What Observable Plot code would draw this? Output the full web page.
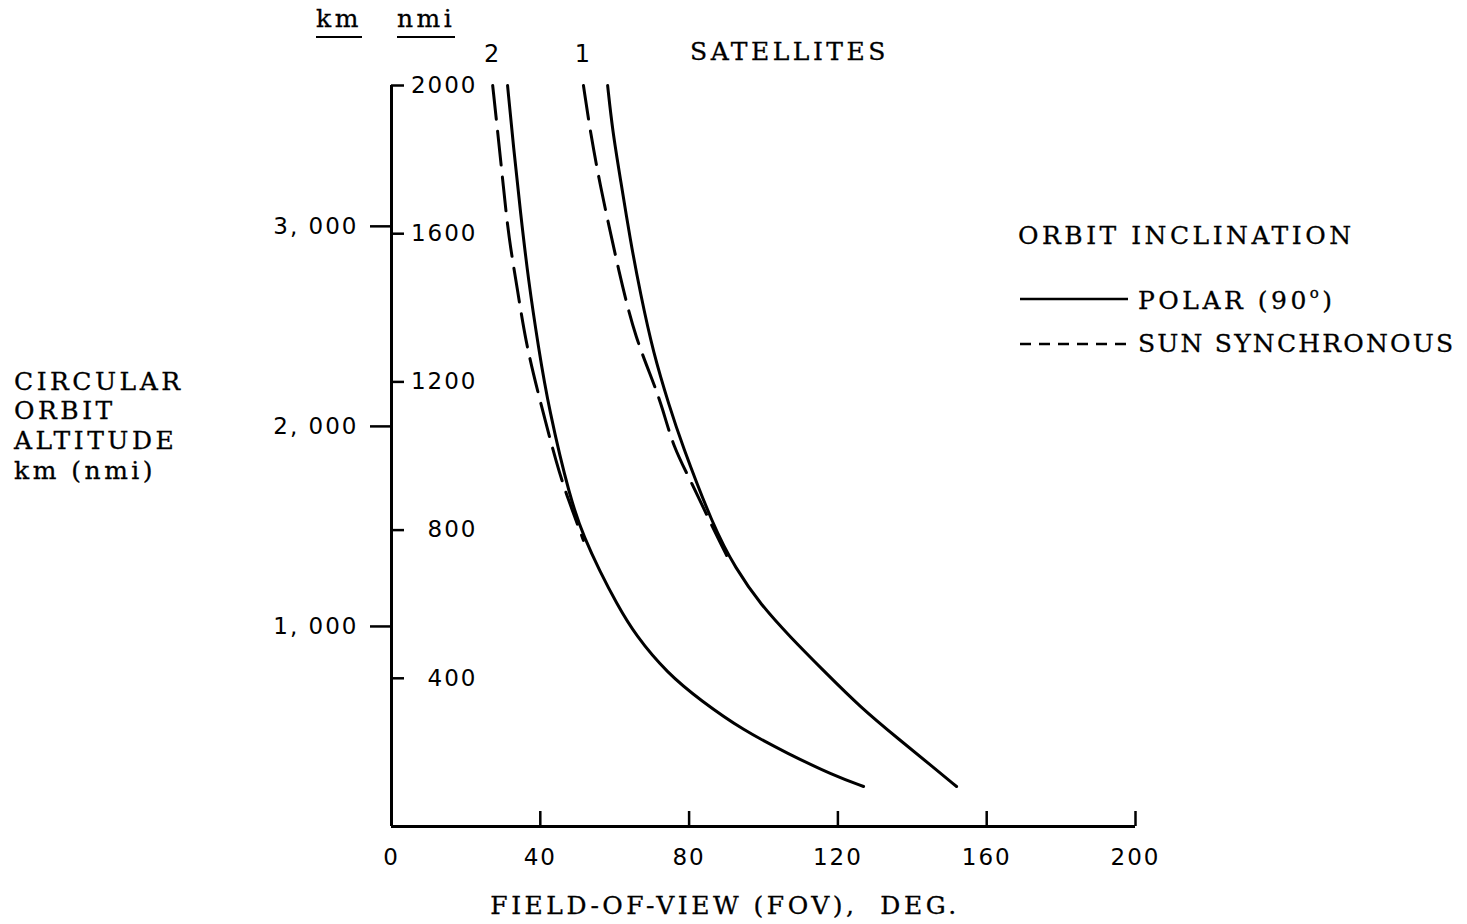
<!DOCTYPE html>
<html>
<head>
<meta charset="utf-8">
<script src="https://cdn.jsdelivr.net/npm/d3@7"></script>
<script src="https://cdn.jsdelivr.net/npm/@observablehq/plot@0.6"></script>
<style>
  html, body { margin: 0; padding: 0; background: #fff; }
  #wrap { position: relative; width: 1467px; height: 924px; overflow: hidden; }
  #wrap svg text { letter-spacing: 2px; -webkit-text-stroke: 0.3px #000; }
  .lbl { position: absolute; font-family: "DejaVu Serif", serif; font-size: 25px; letter-spacing: 3.5px; color: #000; white-space: nowrap; line-height: 1; -webkit-text-stroke: 0.3px #000; }
  .ul { border-bottom: 2.5px solid #000; padding-bottom: 5px; }
</style>
</head>
<body>
<div id="wrap"></div>
<script>
// Field of view (deg) against circular orbit altitude (km) for two-satellite
// and one-satellite coverage, polar vs sun-synchronous inclination.
const KM_PER_NMI = 1.852;

const sat2PolarFov = [31.2, 32.8, 34.7, 36.8, 39.5, 42.2, 48.1, 51.9, 55.9, 60.5, 65.6, 74.2, 83.1, 94.6, 106.5, 118.8, 126.9];
const sat2PolarAlt = [3704, 3395, 3065, 2730, 2395, 2095, 1630, 1440, 1280, 1115, 955, 765, 630, 480, 365, 255, 200];

const sat2SunFov = [27.2, 28.5, 30.1, 31.5, 33.9, 36.0, 39.2, 44.6, 47.6, 51.6];
const sat2SunAlt = [3704, 3480, 3195, 2945, 2680, 2430, 2180, 1795, 1630, 1430];

const sat1PolarFov = [58.1, 59.4, 61.6, 64.2, 66.9, 70.4, 74.8, 77.7, 86.6, 92.5, 99.2, 107.3, 116.1, 126.1, 136.8, 145.7, 151.9];
const sat1PolarAlt = [3704, 3480, 3230, 2930, 2665, 2365, 2095, 1930, 1495, 1290, 1110, 945, 780, 595, 430, 295, 200];

const sat1SunFov = [51.6, 53.5, 56.2, 58.9, 62.1, 65.6, 70.2, 72.8, 75.8, 80.4, 85.8, 90.5];
const sat1SunAlt = [3704, 3465, 3195, 2965, 2695, 2445, 2230, 2095, 1895, 1730, 1515, 1340];

const satelliteNames = ["2", "1"];
const satelliteLabelFov = [sat2SunFov[0], sat1SunFov[0]];

const xTickLabels = [0, 40, 80, 120, 160, 200];
const xTickMarks = [40, 80, 120, 160, 200];
const kmTicks = [1000, 2000, 3000];
const nmiTicks = [400, 800, 1200, 1600, 2000];

const topKm = nmiTicks[nmiTicks.length - 1] * KM_PER_NMI;
const toRows = (fov, alt) => fov.map((f, i) => ({fov: f, alt: alt[i]}));

const curve = "basis";
const plot = Plot.plot({
  width: 1467,
  height: 924,
  marginLeft: 391,
  marginRight: 332,
  marginTop: 85,
  marginBottom: 98,
  style: {fontFamily: "DejaVu Sans, sans-serif", fontSize: "23px", color: "#000", background: "#fff"},
  x: {domain: [0, 200]},
  y: {domain: [0, topKm]},
  marks: [
    // axis frame
    Plot.ruleX([0], {y1: 0, y2: topKm, strokeWidth: 3}),
    Plot.ruleY([0], {x1: 0, x2: 200, strokeWidth: 3}),
    // x ticks point inward
    Plot.ruleX(xTickMarks, {y1: 0, y2: 75, strokeWidth: 2.5}),
    Plot.axisX({ticks: xTickLabels, tickSize: 0, tickPadding: 22, label: null, fontSize: 23}),
    // km scale on the outside of the axis
    Plot.axisY({
      ticks: kmTicks, tickSize: 21, tickPadding: 12, label: null, strokeWidth: 2.5, fontSize: 23,
      tickFormat: d => d3.format(",")(d).replace(",", ", ")
    }),
    // nmi scale on the inside of the axis
    Plot.ruleY(nmiTicks, {y: d => d * KM_PER_NMI, x1: 0, x2: 3.5, strokeWidth: 2.5}),
    Plot.text(nmiTicks, {x: 0, y: d => d * KM_PER_NMI, text: d => String(d), dx: 86, textAnchor: "end", fontSize: 23}),
    // curves
    Plot.line(toRows(sat2PolarFov, sat2PolarAlt), {x: "fov", y: "alt", curve, strokeWidth: 3}),
    Plot.line(toRows(sat1PolarFov, sat1PolarAlt), {x: "fov", y: "alt", curve, strokeWidth: 3}),
    Plot.line(toRows(sat2SunFov, sat2SunAlt), {x: "fov", y: "alt", curve, strokeWidth: 3, strokeDasharray: "34,12"}),
    Plot.line(toRows(sat1SunFov, sat1SunAlt), {x: "fov", y: "alt", curve, strokeWidth: 3, strokeDasharray: "34,12"}),
    // satellite count above each pair of curves
    Plot.text(satelliteNames, {
      x: (d, i) => satelliteLabelFov[i], y: () => topKm,
      text: d => d, dy: -31, fontSize: 24
    })
  ]
});

const wrap = document.getElementById("wrap");
wrap.appendChild(plot);

function label(html, left, top, extra = "") {
  const el = document.createElement("div");
  el.className = "lbl " + extra;
  el.style.left = left + "px";
  el.style.top = top + "px";
  el.innerHTML = html;
  wrap.appendChild(el);
  return el;
}

// unit headers
label("km", 316, 6, "ul");
label("nmi", 397, 6, "ul");
label("SATELLITES", 690, 39);

// y title
label("CIRCULAR", 14, 369);
label("ORBIT", 14, 398);
label("ALTITUDE", 14, 428);
label("km (nmi)", 14, 458);

// x title
const xt = label("FIELD-OF-VIEW (FOV), &nbsp;DEG.", 0, 893);
xt.style.left = "725px";
xt.style.transform = "translateX(-50%)";

// legend
label("ORBIT INCLINATION", 1018, 223);
label("POLAR (90<sup style='font-size:15px;vertical-align:11px'>o</sup>)", 1138, 286);
const sun = label("SUN SYNCHRONOUS", 1138, 331);
sun.style.letterSpacing = "2.2px";

const NS = "http://www.w3.org/2000/svg";
function legendLine(top, dash) {
  const s = document.createElementNS(NS, "svg");
  s.setAttribute("width", 110);
  s.setAttribute("height", 6);
  s.style.position = "absolute";
  s.style.left = "1020px";
  s.style.top = (top - 3) + "px";
  const l = document.createElementNS(NS, "line");
  l.setAttribute("x1", 0); l.setAttribute("x2", 108);
  l.setAttribute("y1", 3); l.setAttribute("y2", 3);
  l.setAttribute("stroke", "#000");
  l.setAttribute("stroke-width", 2.5);
  if (dash) l.setAttribute("stroke-dasharray", dash);
  s.appendChild(l);
  wrap.appendChild(s);
}
legendLine(299, null);
legendLine(344, "11,8");
</script>
</body>
</html>
